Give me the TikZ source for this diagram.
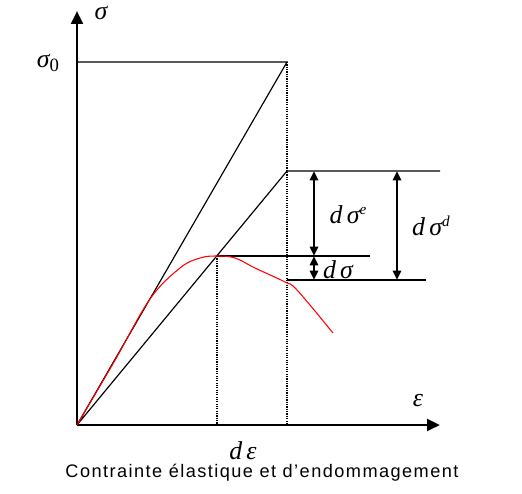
\documentclass[tikz,border=0pt]{standalone}
\usepackage{fontspec}
\setmainfont{Liberation Serif}
\newfontfamily\capfont{Liberation Sans}[LetterSpace=8]
\usetikzlibrary{arrows.meta}

\newcommand{\upidx}[1]{\raisebox{0.8ex}{\fontsize{13}{13}\selectfont #1}}
\newcommand{\lowidx}[1]{\raisebox{-0.35ex}{\fontsize{16}{16}\selectfont #1}}

\begin{document}
\begin{tikzpicture}[x=0.03cm, y=-0.03cm,
  axis/.style={line width=2.4pt, -{Triangle[length=11pt,width=10pt]}},
  thinline/.style={line width=1pt},
  guide/.style={line width=0.9pt, dash pattern=on 1pt off 1pt},
  dimarrow/.style={line width=2pt, {Triangle[length=8pt,width=7pt]}-{Triangle[length=8pt,width=7pt]}},
  lab/.style={font=\fontsize{22}{24}\selectfont\itshape},
  every node/.style={inner sep=0pt}]
  \useasboundingbox (0,0) rectangle (522,493);

  % points of the diagram
  \coordinate (O) at (77,425);
  \coordinate (ytop) at (77,11);
  \coordinate (xend) at (440,425);
  \coordinate (s0) at (77,62);
  \coordinate (A) at (287,62);
  \coordinate (B) at (287,171);
  \coordinate (P) at (217,256);
  \coordinate (Q) at (287,280);
  \coordinate (Bend) at (440,171);
  \coordinate (Pend) at (370,256);
  \coordinate (Qend) at (426,280);
  \coordinate (e1) at (314,171);
  \coordinate (e2) at (314,256);
  \coordinate (e3) at (314,280);
  \coordinate (d1) at (397,171);
  \coordinate (d2) at (397,280);

  % axes
  \draw[axis] (O) -- (ytop);
  \draw[axis] (O) -- (xend);

  % loading lines
  \draw[thinline] (s0) -- (A) -- (O) -- (B) -- (Bend);
  \draw[thinline] (P) -- (Pend);
  \draw[thinline] (Q) -- (Qend);
  \draw[guide] (A) -- (A |- O);
  \draw[guide] (P) -- (P |- O);

  % behaviour curve
  \draw[red, line width=0.9pt] plot[smooth, tension=0.6] coordinates {
    (77,425) (114,362) (150,299) (180,268) (200,258) (217,256)
    (235,258) (255,268) (285,282) (297,290) (333,333)};

  % increments
  \draw[dimarrow] (e1) -- (e2);
  \draw[dimarrow] (e2) -- (e3);
  \draw[dimarrow] (d1) -- (d2);

  % labels
  \node[lab] (sig) at (101,13) {σ};
  \node[lab] (sig0) at (48,63) {σ\lowidx{\upshape 0}};
  \node[lab] (eps) at (418,401) {ε};
  \node[lab] (deps) at (243,451) {d\,ε};
  \node[lab] (dse) at (348,215) {d\,σ\upidx{e}};
  \node[lab] (ds) at (338,270) {d\,σ};
  \node[lab] (dsd) at (431,226) {d\,σ\upidx{d}};
  \node[font=\capfont\fontsize{15.5}{17}\selectfont] (caption) at (262,473)
    {Contrainte élastique et d’endommagement};
\end{tikzpicture}
\end{document}
